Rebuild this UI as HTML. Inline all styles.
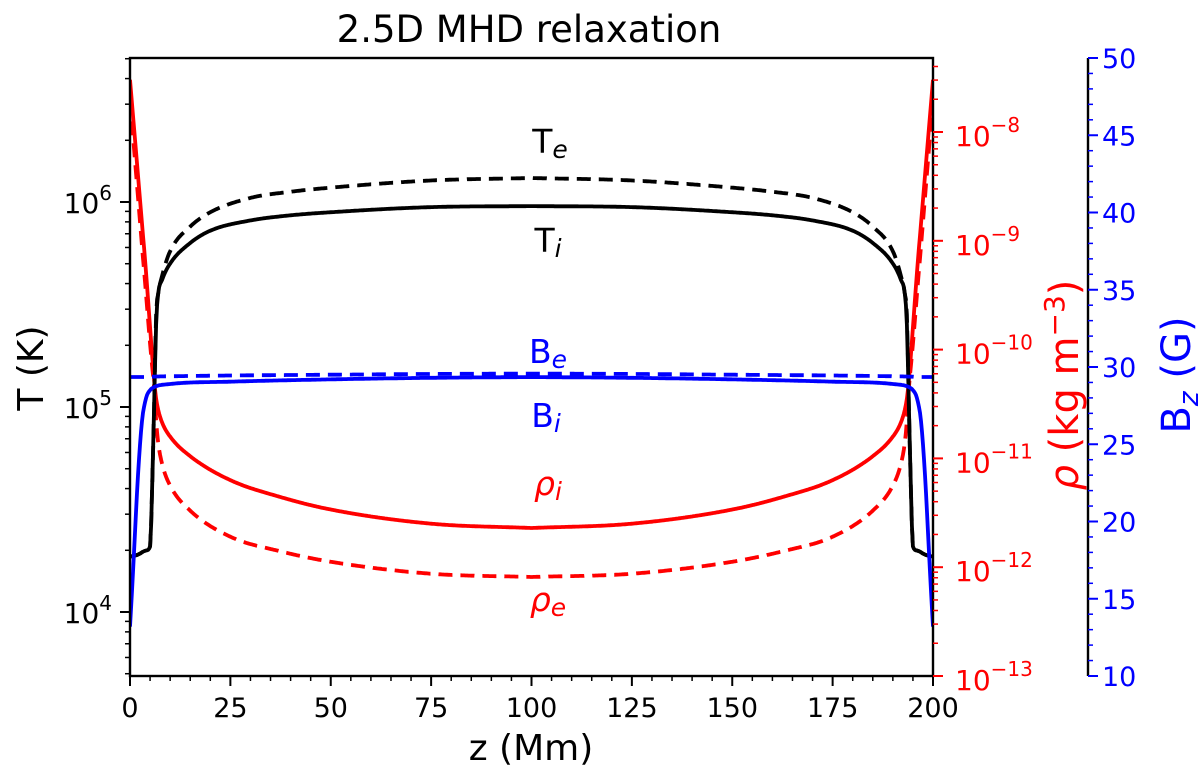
<!DOCTYPE html>
<html><head><meta charset="utf-8"><style>
html,body{margin:0;padding:0;background:#fff}
svg{display:block;font-family:"DejaVu Sans","Liberation Sans",sans-serif}
</style></head><body>
<svg id="chart" width="1200" height="767" viewBox="0 0 1200 767" xmlns="http://www.w3.org/2000/svg">
<text x="529" y="42" font-size="37" text-anchor="middle">2.5D MHD relaxation</text>
<g id="marks"></g>
<g id="axes"></g>
</svg>
<script>
// ---- data (half-profile, z from 0 to 100 Mm, mirrored about 100) ----
const zHalf   = [0, 2, 4, 5, 5.5, 6, 6.5, 7, 8, 10, 15, 20, 30, 40, 50, 75, 100];
const logTi   = [4.27, 4.28, 4.30, 4.32, 4.6, 5.0, 5.4, 5.55, 5.62, 5.70, 5.80, 5.86, 5.91, 5.935, 5.95, 5.975, 5.98];
const logTe   = [4.27, 4.28, 4.30, 4.32, 4.6, 5.0, 5.45, 5.55, 5.64, 5.76, 5.88, 5.95, 6.02, 6.05, 6.07, 6.105, 6.117];
const zRho    = [0, 2, 4, 5, 5.5, 6, 6.5, 7, 8, 10, 15, 25, 37, 50, 75, 100];
const logRhoI = [-7.52, -8.4, -9.3, -9.8, -10.05, -10.28, -10.45, -10.55, -10.67, -10.80, -10.98, -11.2, -11.35, -11.47, -11.6, -11.64];
const logRhoE = [-7.7, -8.6, -9.5, -9.95, -10.15, -10.35, -10.65, -10.85, -11.05, -11.25, -11.48, -11.72, -11.85, -11.95, -12.06, -12.09];
const zB      = [0, 0.5, 1, 2, 3, 4, 5, 6, 10, 25, 50, 75, 100];
const bI      = [13.2, 15.5, 18, 23, 26.5, 28.0, 28.5, 28.7, 28.9, 29.05, 29.2, 29.3, 29.35];
const bE      = [29.35, 29.35, 29.35, 29.35, 29.35, 29.36, 29.37, 29.38, 29.4, 29.45, 29.5, 29.55, 29.57];
const xTicks  = [0, 25, 50, 75, 100, 125, 150, 175, 200];
const tDecades = [4, 5, 6];
const rhoDecades = [-8, -9, -10, -11, -12, -13];
const bTicks  = [10, 15, 20, 25, 30, 35, 40, 45, 50];

// ---- geometry ----
const L=130, R=933, T=58, B=676, BX=1088;
const xS = z => L + (z/200)*(R-L);
const yT = lg => 612 - (lg-4)*205;
const yRho = lg => 132 - (lg+8)*108.8;
const yB = b => B - (b-10)/40*(B-T);

const NS="http://www.w3.org/2000/svg";
const marks=document.getElementById('marks'), axes=document.getElementById('axes');
function mk(tag, attrs, parent){const e=document.createElementNS(NS,tag);for(const k in attrs)e.setAttribute(k,attrs[k]);parent.appendChild(e);return e;}

function monotone(xs, ys){
  const n=xs.length, d=[], m=new Array(n);
  for(let i=0;i<n-1;i++)d.push((ys[i+1]-ys[i])/(xs[i+1]-xs[i]));
  m[0]=d[0]; m[n-1]=d[n-2];
  for(let i=1;i<n-1;i++){ m[i]=(d[i-1]*d[i]<=0)?0:(d[i-1]+d[i])/2; }
  for(let i=0;i<n-1;i++){
    if(d[i]===0){m[i]=0;m[i+1]=0;continue;}
    const a=m[i]/d[i], b=m[i+1]/d[i], s=a*a+b*b;
    if(s>9){const t=3/Math.sqrt(s);m[i]=t*a*d[i];m[i+1]=t*b*d[i];}
  }
  return x=>{
    let i=0; while(i<n-2 && x>xs[i+1])i++;
    const h=xs[i+1]-xs[i], t=(x-xs[i])/h;
    const h00=2*t*t*t-3*t*t+1,h10=t*t*t-2*t*t+t,h01=-2*t*t*t+3*t*t,h11=t*t*t-t*t;
    return h00*ys[i]+h10*h*m[i]+h01*ys[i+1]+h11*h*m[i+1];
  };
}
function drawLine(zs, vs, yf, color, dash, name){
  const f=monotone(zs,vs); const pts=[];
  for(let z=0;z<=200.001;z+=0.25){const zz=Math.min(z,200-z);pts.push([xS(z),yf(f(zz))]);}
  const d=pts.map((p,i)=>(i?'L':'M')+p[0].toFixed(1)+','+p[1].toFixed(1)).join(' ');
  const p=mk('path',{d:d,fill:'none',stroke:color,'stroke-width':3.8,'stroke-linejoin':'round'},marks);
  if(dash)p.setAttribute('stroke-dasharray',dash);
  
  
}
const defs=mk('defs',{},marks);
const cp=mk('clipPath',{id:'cp'},defs);
mk('rect',{x:L,y:T,width:R-L,height:B-T},cp);
marks.setAttribute('clip-path','url(#cp)');

drawLine(zRho, logRhoE, yRho, '#ff0000', '14,8', 'rho-e-line');
drawLine(zRho, logRhoI, yRho, '#ff0000', null, 'rho-i-line');
drawLine(zHalf, logTe, yT, '#000', '14,8', 't-e-line');
drawLine(zHalf, logTi, yT, '#000', null, 't-i-line');
drawLine(zB, bE, yB, '#0000ff', '14,8', 'b-e-line');
drawLine(zB, bI, yB, '#0000ff', null, 'b-i-line');

function lbl(x,y,main,sub,color,name){
  const t=mk('text',{x:x,y:y,'font-size':33,fill:color,'text-anchor':'middle'},axes);
  
  
  t.innerHTML=main+'<tspan font-style="italic" font-size="25" dy="5">'+sub+'</tspan>';
}
lbl(550,153,'T','e','#000','label-te');
lbl(548,252,'T','i','#000','label-ti');
lbl(548,363,'B','e','#0000ff','label-be');
lbl(546,427,'B','i','#0000ff','label-bi');
lbl(548,495,'<tspan font-style="italic">ρ</tspan>','i','#ff0000','label-rho-i');
lbl(548,611,'<tspan font-style="italic">ρ</tspan>','e','#ff0000','label-rho-e');

const fr=mk('rect',{x:L,y:T,width:R-L,height:B-T,fill:'none',stroke:'#000','stroke-width':2.4},axes);

mk('line',{x1:BX,y1:T,x2:BX,y2:B,stroke:'#000','stroke-width':2.4},axes);

for(const v of xTicks){
  const x=xS(v);
  mk('line',{x1:x,y1:B,x2:x,y2:B+10,stroke:'#000','stroke-width':2},axes);
  const t=mk('text',{x:x,y:717,'font-size':27,'text-anchor':'middle'},axes);t.textContent=v;
  
}
for(let v=0;v<=200;v+=5){if(v%25)mk('line',{x1:xS(v),y1:B,x2:xS(v),y2:B+5,stroke:'#000','stroke-width':1.5},axes);}
const xl=mk('text',{x:531,y:760,'font-size':36,'text-anchor':'middle'},axes);xl.textContent='z (Mm)';


for(let d=3;d<=6;d++){
  for(let m=1;m<10;m++){
    const y=yT(d+Math.log10(m)); if(y<T||y>B)continue;
    mk('line',{x1:L,y1:y,x2:L-(m==1?10:5),y2:y,stroke:'#000','stroke-width':m==1?2:1.5},axes);
  }
}
for(const d of tDecades){
  const t=mk('text',{x:L-18,y:yT(d)+11,'font-size':28,'text-anchor':'end'},axes);
  t.innerHTML='10<tspan font-size="20" dy="-13">'+d+'</tspan>';
  
}
const yl=mk('text',{x:0,y:0,'font-size':36,'text-anchor':'middle',transform:'translate(43,368) rotate(-90)'},axes);yl.textContent='T (K)';


for(let d=-13;d<=-8;d++){
  for(let m=1;m<10;m++){
    const y=yRho(d+Math.log10(m)); if(y<T||y>B)continue;
    mk('line',{x1:R,y1:y,x2:R+(m==1?10:5),y2:y,stroke:'#ff0000','stroke-width':m==1?2:1.5},axes);
  }
}
for(const d of rhoDecades){
  const t=mk('text',{x:R+22,y:yRho(d)+14,'font-size':28,fill:'#ff0000'},axes);
  t.innerHTML='10<tspan font-size="20" dy="-14">−'+(-d)+'</tspan>';
  
}
const rl=mk('text',{x:0,y:0,'font-size':40,fill:'#ff0000','text-anchor':'middle',transform:'translate(1078,385) rotate(-90)'},axes);
rl.innerHTML='<tspan font-style="italic">ρ</tspan> (kg m<tspan font-size="28" dy="-14">−3</tspan><tspan dy="14">)</tspan>';


for(let v=10;v<=50;v++){
  const y=yB(v);
  mk('line',{x1:BX,y1:y,x2:BX+(v%5?5:10),y2:y,stroke:'#0000ff','stroke-width':v%5?1.5:2},axes);
}
for(const v of bTicks){
  const t=mk('text',{x:BX+14,y:yB(v)+10,'font-size':27,fill:'#0000ff'},axes);t.textContent=v;
  
}
const bl=mk('text',{x:0,y:0,'font-size':40,fill:'#0000ff','text-anchor':'middle',transform:'translate(1190,375) rotate(-90)'},axes);
bl.innerHTML='B<tspan font-size="28" dy="8" font-style="italic">z</tspan><tspan dy="-8"> (G)</tspan>';

</script>
</body></html>
